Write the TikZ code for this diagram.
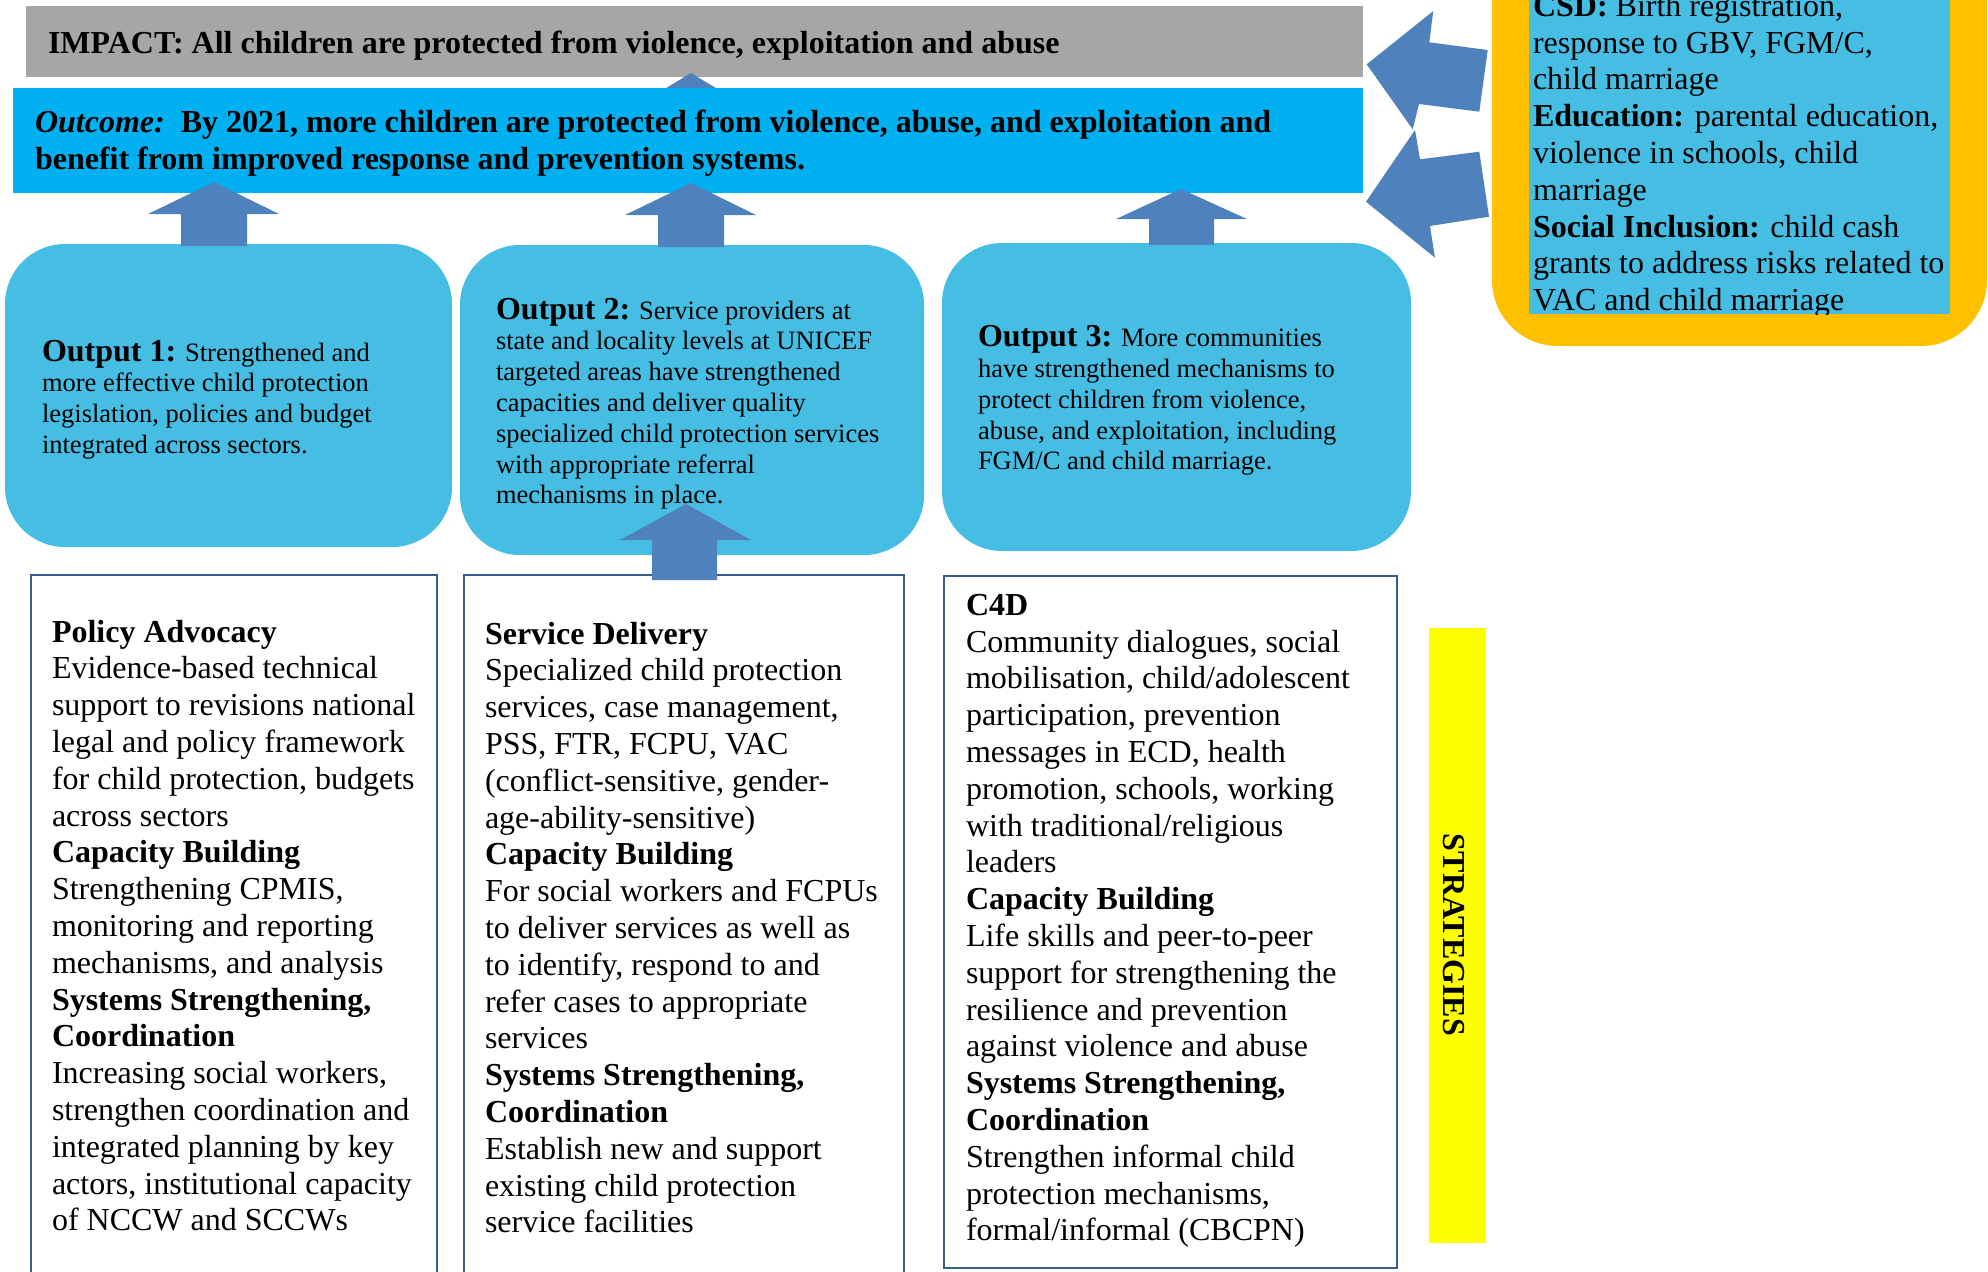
\documentclass[tikz,border=0pt]{standalone}
\usepackage{fontspec}
\setmainfont{Liberation Serif}
\definecolor{impactc}{HTML}{A6A6A6}
\definecolor{outcomec}{HTML}{00B0F0}
\definecolor{outc}{HTML}{46BDE3}
\definecolor{arrowc}{HTML}{4F81BD}
\definecolor{orangec}{HTML}{FFC000}
\definecolor{stratc}{HTML}{385D8A}
\definecolor{yellowc}{HTML}{FFFF00}
\newcommand\blk[2]{\begin{minipage}[t]{#1}\raggedright #2\end{minipage}}
\tikzset{
  txt/.style={anchor=base west, inner sep=0pt, outer sep=0pt},
  strat/.style={txt, font=\fontsize{16}{18.4}\selectfont},
  outtxt/.style={txt, font=\fontsize{13.25}{15.4}\selectfont},
  blockarrow/.style={fill=arrowc},
  outbox/.style={fill=outc, rounded corners=30pt},
  stratbox/.style={draw=stratc, line width=0.9pt}
}
\newcommand\otitle[1]{{\fontsize{16}{15.4}\selectfont\bfseries #1}}
\begin{document}
\begin{tikzpicture}[x=0.5pt,y=-0.5pt]
\useasboundingbox (0,0) rectangle (1988,1271);
\clip (0,0) rectangle (1988,1271);

% impact
\fill[impactc] (26,6) rectangle (1363,77);
\node[txt, font=\fontsize{16}{18.4}\selectfont\bfseries] (impact) at (48,53)
  {IMPACT: All children are protected from violence, exploitation and abuse};
% arrow behind outcome
\fill[blockarrow] (691,73) -- (744,105) -- (668,105) -- (638,105) -- cycle;
% outcome
\fill[outcomec] (13,88) rectangle (1363,193);
\node[txt, font=\fontsize{16}{18.6}\selectfont\bfseries] (outcome) at (35,132.7)
  {\blk{700pt}{\textit{Outcome:}\ \ By 2021, more children are protected from violence, abuse, and exploitation and\\
  benefit from improved response and prevention systems.}};

% output boxes
\fill[outbox] (5,244) rectangle (452,547);
\fill[outbox] (460,245) rectangle (924,555);
\fill[outbox] (942,243) rectangle (1411,551);

% up arrows output -> outcome
\fill[blockarrow] (214,182) -- (279,214) -- (247,214) -- (247,246) -- (181,246) -- (181,214) -- (148,214) -- cycle;
\fill[blockarrow] (691,183) -- (756,215) -- (724,215) -- (724,247) -- (658,247) -- (658,215) -- (625,215) -- cycle;
\fill[blockarrow] (1181,189) -- (1247,219) -- (1214,219) -- (1214,245) -- (1149,245) -- (1149,219) -- (1116,219) -- cycle;

\node[outtxt] (out1) at (42,361) {\blk{220pt}{\otitle{Output 1:} Strengthened and\\
more effective child protection\\
legislation, policies and budget\\
integrated across sectors.}};
\node[outtxt] (out2) at (496,319) {\blk{220pt}{\otitle{Output 2:} Service providers at\\
state and locality levels at UNICEF\\
targeted areas have strengthened\\
capacities and deliver quality\\
specialized child protection services\\
with appropriate referral\\
mechanisms in place.}};
\node[outtxt] (out3) at (978,346.7) {\blk{220pt}{\otitle{Output 3:} More communities\\
have strengthened mechanisms to\\
protect children from violence,\\
abuse, and exploitation, including\\
FGM/C and child marriage.}};

% strategy boxes
\draw[stratbox] (31,575) rectangle (437,1300);
\draw[stratbox] (464,575) rectangle (904,1300);
\draw[stratbox] (944,576) rectangle (1397,1268);

% arrow strategy 2 -> output 2
\fill[blockarrow] (686,504) -- (751,540) -- (717,540) -- (717,580) -- (652,580) -- (652,540) -- (620,540) -- cycle;

\node[strat] (s1) at (52,642) {\blk{200pt}{\textbf{Policy Advocacy}\\
Evidence-based technical\\
support to revisions national\\
legal and policy framework\\
for child protection, budgets\\
across sectors\\
\textbf{Capacity Building}\\
Strengthening CPMIS,\\
monitoring and reporting\\
mechanisms, and analysis\\
\textbf{Systems Strengthening,}\\
\textbf{Coordination}\\
Increasing social workers,\\
strengthen coordination and\\
integrated planning by key\\
actors, institutional capacity\\
of NCCW and SCCWs}};
\node[strat] (s2) at (485,644) {\blk{220pt}{\textbf{Service Delivery}\\
Specialized child protection\\
services, case management,\\
PSS, FTR, FCPU, VAC\\
(conflict-sensitive, gender-\\
age-ability-sensitive)\\
\textbf{Capacity Building}\\
For social workers and FCPUs\\
to deliver services as well as\\
to identify, respond to and\\
refer cases to appropriate\\
services\\
\textbf{Systems Strengthening,}\\
\textbf{Coordination}\\
Establish new and support\\
existing child protection\\
service facilities}};
\node[strat] (s3) at (966,615.3) {\blk{220pt}{\textbf{C4D}\\
Community dialogues, social\\
mobilisation, child/adolescent\\
participation, prevention\\
messages in ECD, health\\
promotion, schools, working\\
with traditional/religious\\
leaders\\
\textbf{Capacity Building}\\
Life skills and peer-to-peer\\
support for strengthening the\\
resilience and prevention\\
against violence and abuse\\
\textbf{Systems Strengthening,}\\
\textbf{Coordination}\\
Strengthen informal child\\
protection mechanisms,\\
formal/informal (CBCPN)}};

% strategies bar
\fill[yellowc] (1429,628) rectangle (1486,1243);
\node[inner sep=0pt, rotate=-90, font=\fontsize{16}{18.4}\selectfont\bfseries] (strategies) at (1454,935) {STRATEGIES};

% left arrows
\fill[blockarrow] (1433.3,11) -- (1366.7,64.3) -- (1412.7,129.3) -- (1419,104) -- (1479.3,111.7) -- (1487.7,50) -- (1429.3,42.3) -- cycle;
\fill[blockarrow] (1415,130) -- (1366,201.7) -- (1435,257.7) -- (1430,226) -- (1489,216.7) -- (1479.3,151.7) -- (1420,159.3) -- cycle;

% CSD box
\fill[orangec, rounded corners=33pt] (1492,-120) rectangle (1987,346);
\fill[outc] (1529,-20) rectangle (1950,314);
\begin{scope}
\clip (1529,-20) rectangle (1950,314);
\node[strat] (csd) at (1533,16.3) {\blk{215pt}{\textbf{CSD:} Birth registration,\\
response to GBV, FGM/C,\\
child marriage\\
\textbf{Education:} parental education,\\
violence in schools, child\\
marriage\\
\textbf{Social Inclusion:} child cash\\
grants to address risks related to\\
VAC and child marriage}};
\end{scope}
\end{tikzpicture}
\end{document}
